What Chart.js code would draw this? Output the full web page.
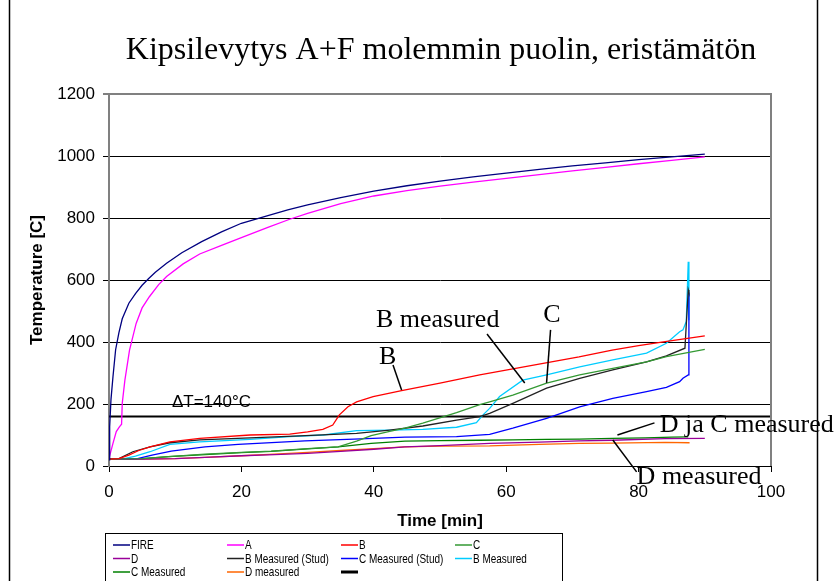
<!DOCTYPE html>
<html><head><meta charset="utf-8">
<script src="https://cdn.jsdelivr.net/npm/chart.js@4/dist/chart.umd.min.js"></script>
<style>html,body{margin:0;padding:0;background:#fff;overflow:hidden}</style>
</head><body>
<canvas id="c" width="838" height="581"></canvas>
<script>
const titleText = 'Kipsilevytys A+F molemmin puolin, eristämätön';
const xTitle = 'Time [min]';
const yTitle = 'Temperature [C]';
const seriesLabels = ['FIRE','A','B','C','D','B Measured (Stud)','C Measured (Stud)','B Measured','C Measured','D measured',''];

const fireTime = [0,0.1,0.3,0.6,1,1.5,2,3,4,5,6,7,8.7,11,14,17,20,24,27,30,35,40,45,50,55,60,65,70,75,80,85,90];
const fireTemp = [20,127,215,288,375,430,475,525,556,583,605,625,654,688,724,755,783,808,826,842,866,887,904,919,933,945,957,968,978,988,997,1006];

const aTime = [0,0.6,1.1,1.6,1.9,2.0,2.4,3.1,4.1,5,6.1,7.5,8.7,11.2,13.7,17,20,24,27.3,30,35,40,45,50,55,60,65,70,75,80,85,90];
const aTemp = [25,73,111,127,135,202,277,374,460,510,546,585,611,652,684,712,737,770,796,815,846,871,888,903,916,928,940,952,963,975,986,997];

const bTime = [0,1.5,3,4.5,6.2,9.2,13.7,21.3,27.3,30,32.3,33.8,34.8,36.1,37.4,39.9,44.2,50,56,61,66,71,76,80,84,90];
const bTemp = [22,24,35,50,62,78,89,100,103,110,118,132,165,191,207,224,243,267,294,313,333,352,374,388,401,420];

const cTime = [0,5,9,14.5,20,24.5,30,34.6,37.4,39.6,42.4,44.7,47.4,52.5,56,57.5,61,66.1,71.1,76.1,81.2,84.2,90];
const cTemp = [22,24,30,38,44,48,56,62,80,98,112,122,138,172,198,207,229,267,294,315,336,353,376];

const dTime = [0,5,10,14.5,20,25,30,35,40,44.7,50,57.5,65,71,76,84,90];
const dTemp = [22,22,24,28,33,37,41,47,54,62,66,73,77,81,83,88,89];

const bsTime = [0,1.5,3.6,6.2,9.2,13.7,21.3,28.8,37.4,42.4,47.4,52.5,56,57.5,61,66.1,71.1,76.1,81.2,84.2,87,87.5,87.6];
const bsTemp = [22,24,46,62,75,84,91,97,105,116,129,148,159,170,202,251,283,310,336,355,380,568,560];

const csTime = [0,4.3,6.5,9.4,14.5,19.5,29.6,37,44.7,52.5,57.5,61,66.1,71.1,76.1,81.2,84.2,86.2,86.7,87.5,87.6];
const csTemp = [22,24,35,48,62,70,81,87,93,95,102,122,154,191,218,240,254,272,283,294,560];

const bmTime = [0,2,4,6.2,9.2,13.7,21.3,27.3,32.4,37.4,42.4,47.4,52.5,55.5,56.5,57.5,59,62.5,66.1,71.1,76.1,81.2,84.2,86.2,86.7,87.2,87.5,87.6];
const bmTemp = [22,22,32,46,70,78,86,95,100,114,116,118,125,140,165,186,224,277,294,320,342,364,396,433,439,466,659,470];

const cmTime = [0,5,9,14.5,20,24.5,30,34.6,39.6,44.7,50,56,61,66,71,76,81,85,87.5];
const cmTemp = [22,24,30,37,43,47,55,62,73,80,82,83,84,86,87,89,91,93,94];

const dmTime = [0,5,10,14.5,20,25,30,35,40,44.7,50,57.5,65,71,76,84,87.7];
const dmTemp = [22,22,24,28,33,38,44,50,56,62,64,65,70,73,74,76,75];

const limitTime = [0,100];
const limitTemp = [160,160];

const xTicks = [0,20,40,60,80,100];
const yTicks = [0,200,400,600,800,1000,1200];

const pts = (t,v)=>t.map((x,i)=>({x:x,y:v[i]}));
const seriesData = [
  pts(fireTime,fireTemp), pts(aTime,aTemp), pts(bTime,bTemp), pts(cTime,cTemp), pts(dTime,dTemp),
  pts(bsTime,bsTemp), pts(csTime,csTemp), pts(bmTime,bmTemp), pts(cmTime,cmTemp), pts(dmTime,dmTemp),
  pts(limitTime,limitTemp)
];
const colors = ['#000080','#FF00FF','#FF0000','#339933','#990099','#222222','#0000FF','#00CCFF','#008000','#FF6600','#000000'];
const widths = [1.3,1.3,1.3,1.3,1.3,1.3,1.3,1.3,1.3,1.3,2];

const datasets = seriesLabels.map((l,i)=>({
  label:l, data:seriesData[i], borderColor:colors[i], backgroundColor:colors[i],
  borderWidth:widths[i], pointRadius:0, tension:0, fill:false
}));

const annotations = [
  {text:'B measured', x:49.65, y:471, align:'center', font:'26px "Liberation Serif", serif'},
  {text:'C', x:66.9, y:487, align:'center', font:'26px "Liberation Serif", serif'},
  {text:'B', x:42.1, y:352, align:'center', font:'26px "Liberation Serif", serif'},
  {text:'ΔT=140°C', x:9.5, y:206, align:'left', font:'17px "Liberation Sans", Arial, sans-serif'},
  {text:'D ja C measured', x:83.2, y:132, align:'left', font:'26px "Liberation Serif", serif'},
  {text:'D measured', x:79.7, y:-35, align:'left', font:'26px "Liberation Serif", serif'}
];
const leaders = [
  [57.1,426,62.8,268],[66.7,439,66.1,268],[42.9,326,44.2,245],[76.8,100,82.4,139],[76.1,84,79.7,-19]
];

const decor = {
  id:'decor',
  afterDraw(chart){
    const {ctx, chartArea:ca, scales} = chart;
    const xs = scales.x, ys = scales.y;
    ctx.save();
    ctx.strokeStyle='#808080'; ctx.lineWidth=2;
    ctx.beginPath(); ctx.moveTo(ca.right, ca.top-1); ctx.lineTo(ca.right, ca.bottom); ctx.stroke();
    ctx.strokeStyle='#000'; ctx.lineWidth=1.5;
    ctx.beginPath(); ctx.moveTo(9.5,0); ctx.lineTo(9.5,581); ctx.moveTo(817.5,0); ctx.lineTo(817.5,581); ctx.stroke();
    ctx.fillStyle='#000';
    ctx.font='32px "Liberation Serif", "Times New Roman", serif';
    ctx.textAlign='center'; ctx.textBaseline='middle';
    ctx.fillText(titleText, (ca.left+ca.right)/2+1, 51);
    ctx.strokeStyle='#000'; ctx.lineWidth=1.5;
    leaders.forEach(l=>{
      ctx.beginPath();
      ctx.moveTo(xs.getPixelForValue(l[0]), ys.getPixelForValue(l[1]));
      ctx.lineTo(xs.getPixelForValue(l[2]), ys.getPixelForValue(l[3]));
      ctx.stroke();
    });
    annotations.forEach(a=>{
      ctx.font=a.font; ctx.textAlign=a.align; ctx.textBaseline='middle';
      ctx.fillText(a.text, xs.getPixelForValue(a.x), ys.getPixelForValue(a.y));
    });
    // legend
    ctx.lineWidth=1; ctx.strokeStyle='#000';
    ctx.strokeRect(105.5,533.5,457,60);
    const colX=[113,227,341,455], rowY=[545,558.5,572];
    chart.data.datasets.forEach((ds,i)=>{
      const c=i%4, r=Math.floor(i/4), x0=colX[c], yy=rowY[r];
      ctx.strokeStyle=ds.borderColor; ctx.lineWidth = ds.label ? 1.5 : 3;
      ctx.beginPath(); ctx.moveTo(x0,yy); ctx.lineTo(x0+17,yy); ctx.stroke();
      if(ds.label){
        ctx.save(); ctx.translate(x0+18,yy); ctx.scale(0.78,1);
        ctx.font='12.8px "Liberation Sans", Arial, sans-serif'; ctx.textAlign='left'; ctx.textBaseline='middle';
        ctx.fillStyle='#000'; ctx.fillText(ds.label,0,0.5); ctx.restore();
      }
    });
    ctx.restore();
  }
};

new Chart(document.getElementById('c'), {
  type:'line',
  data:{datasets},
  options:{
    responsive:false, animation:false, devicePixelRatio:1,
    layout:{padding:{top:94,right:67,left:0,bottom:51}},
    plugins:{legend:{display:false}, title:{display:false}, tooltip:{enabled:false}},
    scales:{
      x:{type:'linear', min:0, max:100,
        afterBuildTicks(s){ s.ticks = xTicks.map(v=>({value:v})); },
        afterFit(s){ s.height = 64; },
        ticks:{color:'#000', font:{family:'"Liberation Sans", Arial, sans-serif', size:17}, padding:10, maxRotation:0, callback:v=>String(v)},
        grid:{drawOnChartArea:false, drawTicks:true, tickLength:6, tickColor:'#000', tickWidth:1},
        border:{color:'#000', width:1},
        title:{display:true, text:xTitle, color:'#000', font:{family:'"Liberation Sans", Arial, sans-serif', size:17, weight:'bold', lineHeight:1}, padding:{top:0,bottom:0.5}}
      },
      y:{type:'linear', min:0, max:1200,
        afterBuildTicks(s){ s.ticks = yTicks.map(v=>({value:v})); },
        afterFit(s){ s.width = 109; },
        ticks:{color:'#000', font:{family:'"Liberation Sans", Arial, sans-serif', size:17}, padding:8, callback:v=>String(v)},
        grid:{color:c=>c.tick && c.tick.value===1200 ? '#808080' : '#000', lineWidth:c=>c.tick && c.tick.value===1200 ? 2 : 1,
          tickLength:6, tickColor:'#000', tickWidth:1},
        border:{color:'#808080', width:2},
        title:{display:true, text:yTitle, color:'#000', font:{family:'"Liberation Sans", Arial, sans-serif', size:17, weight:'bold', lineHeight:1}, padding:{top:28.5,bottom:0}}
      }
    }
  },
  plugins:[decor]
});
</script>
</body></html>
